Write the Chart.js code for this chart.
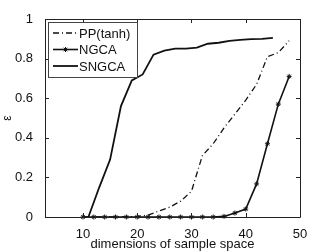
<!DOCTYPE html>
<html>
<head>
<meta charset="utf-8">
<script src="https://cdn.jsdelivr.net/npm/chart.js@4.4.0/dist/chart.umd.min.js"></script>
<style>
  html, body { margin: 0; padding: 0; background: #fff; }
  #wrap { width: 332px; height: 252px; }
</style>
</head>
<body>
<div id="wrap"><canvas id="c" width="332" height="252"></canvas></div>
<script>
// values
const ppDims = [10, 12, 14, 16, 18, 20, 22, 24, 26, 28, 30, 32, 34, 36, 38, 40, 42, 44, 46, 48];
const ppErr = [0, 0, 0, 0, 0, 0.003, 0.01, 0.03, 0.05, 0.08, 0.13, 0.31, 0.37, 0.45, 0.52, 0.59, 0.67, 0.81, 0.83, 0.89];

const ngcaDims = [10, 12, 14, 16, 18, 20, 22, 24, 26, 28, 30, 32, 34, 36, 38, 40, 42, 44, 46, 48];
const ngcaErr = [0, 0, 0, 0, 0, 0, 0, 0, 0, 0, 0, 0, 0, 0.003, 0.02, 0.04, 0.167, 0.37, 0.57, 0.71];

const sngcaDims = [11, 13, 15, 17, 19, 21, 23, 25, 27, 29, 31, 33, 35, 37, 39, 41, 43, 45];
const sngcaErr = [0, 0.15, 0.29, 0.56, 0.69, 0.72, 0.82, 0.84, 0.85, 0.85, 0.855, 0.875, 0.88, 0.89, 0.895, 0.898, 0.9, 0.905];

const xTicks = [10, 20, 30, 40, 50];
const yTicks = [0, 0.2, 0.4, 0.6, 0.8, 1];

const FONT = '"Liberation Sans", Arial, sans-serif';
const toXY = (xs, ys) => xs.map((x, i) => ({ x: x, y: ys[i] }));

// box + inward ticks like matlab
const boxPlugin = {
  id: 'box',
  afterDraw(chart) {
    const ctx = chart.ctx;
    const a = chart.chartArea;
    const xs = chart.scales.x, ys = chart.scales.y;
    ctx.save();
    ctx.strokeStyle = '#222';
    ctx.lineWidth = 1;
    ctx.beginPath();
    ctx.rect(Math.round(a.left) + 0.5, Math.round(a.top) + 0.5, Math.round(a.right - a.left), Math.round(a.bottom - a.top));
    const L = 4;
    xTicks.forEach(v => {
      const px = Math.round(xs.getPixelForValue(v)) + 0.5;
      ctx.moveTo(px, a.bottom); ctx.lineTo(px, a.bottom - L);
      ctx.moveTo(px, a.top); ctx.lineTo(px, a.top + L);
    });
    yTicks.forEach(v => {
      const py = Math.round(ys.getPixelForValue(v)) + 0.5;
      ctx.moveTo(a.left, py); ctx.lineTo(a.left + L, py);
      ctx.moveTo(a.right, py); ctx.lineTo(a.right - L, py);
    });
    ctx.stroke();
    ctx.restore();
  }
};

// legend box in the upper left corner of the plot
const legendPlugin = {
  id: 'boxLegend',
  afterDraw(chart) {
    const ctx = chart.ctx;
    const a = chart.chartArea;
    const x0 = a.left + 3, y0 = a.top + 3, w = 89, h = 55;
    ctx.save();
    ctx.fillStyle = '#fff';
    ctx.fillRect(x0, y0, w, h);
    ctx.strokeStyle = '#444';
    ctx.lineWidth = 1;
    ctx.strokeRect(x0 + 0.5, y0 + 0.5, w, h);
    ctx.font = '13px ' + FONT;
    ctx.textBaseline = 'middle';
    chart.data.datasets.forEach((ds, i) => {
      const yy = y0 + 11 + i * 16.5;
      ctx.strokeStyle = ds.borderColor;
      ctx.lineWidth = ds.borderWidth;
      ctx.setLineDash(ds.borderDash || []);
      ctx.beginPath();
      ctx.moveTo(x0 + 5, yy); ctx.lineTo(x0 + 30, yy);
      ctx.stroke();
      ctx.setLineDash([]);
      if (ds.pointRadius > 0) {
        ctx.lineWidth = 1;
        Chart.helpers.drawPoint(ctx, { pointStyle: ds.pointStyle, radius: ds.pointRadius, borderWidth: 1 }, x0 + 17.5, yy);
      }
      ctx.fillStyle = '#111';
      ctx.fillText(ds.label, x0 + 31, yy + 1);
    });
    ctx.restore();
  }
};

new Chart(document.getElementById('c'), {
  type: 'line',
  data: {
    datasets: [
      {
        label: 'PP(tanh)',
        data: toXY(ppDims, ppErr),
        borderColor: '#111',
        borderWidth: 1.3,
        borderDash: [6, 3, 1, 3],
        pointRadius: 0,
        tension: 0,
        clip: false
      },
      {
        label: 'NGCA',
        data: toXY(ngcaDims, ngcaErr),
        borderColor: '#111',
        backgroundColor: '#111',
        borderWidth: 1.6,
        pointStyle: 'star',
        pointRadius: 2.5,
        pointBorderWidth: 1,
        tension: 0,
        clip: false
      },
      {
        label: 'SNGCA',
        data: toXY(sngcaDims, sngcaErr),
        borderColor: '#111',
        borderWidth: 1.8,
        pointRadius: 0,
        tension: 0,
        clip: false
      }
    ]
  },
  options: {
    responsive: false,
    animation: false,
    layout: { padding: { top: 19, right: 32, left: 0, bottom: 0 } },
    plugins: {
      legend: { display: false },
      tooltip: { enabled: false }
    },
    scales: {
      x: {
        type: 'linear',
        min: 3,
        max: 50,
        afterBuildTicks: s => { s.ticks = xTicks.map(v => ({ value: v })); },
        afterFit: s => { s.height = 35; },
        grid: { display: false },
        border: { display: false },
        ticks: { color: '#111', font: { family: FONT, size: 13 }, padding: 2, maxRotation: 0 },
        title: { display: true, text: 'dimensions of sample space', color: '#111', font: { family: FONT, size: 13 }, padding: { top: -3, bottom: 0 } }
      },
      y: {
        min: 0,
        max: 1,
        afterBuildTicks: s => { s.ticks = yTicks.map(v => ({ value: v })); },
        afterFit: s => { s.width = 45; },
        grid: { display: false },
        border: { display: false },
        ticks: { color: '#111', font: { family: FONT, size: 13 }, padding: 4, callback: v => String(+v.toFixed(1)) },
        title: { display: true, text: 'ε', color: '#111', font: { family: FONT, size: 12 }, padding: 0 }
      }
    }
  },
  plugins: [boxPlugin, legendPlugin]
});
</script>
</body>
</html>
